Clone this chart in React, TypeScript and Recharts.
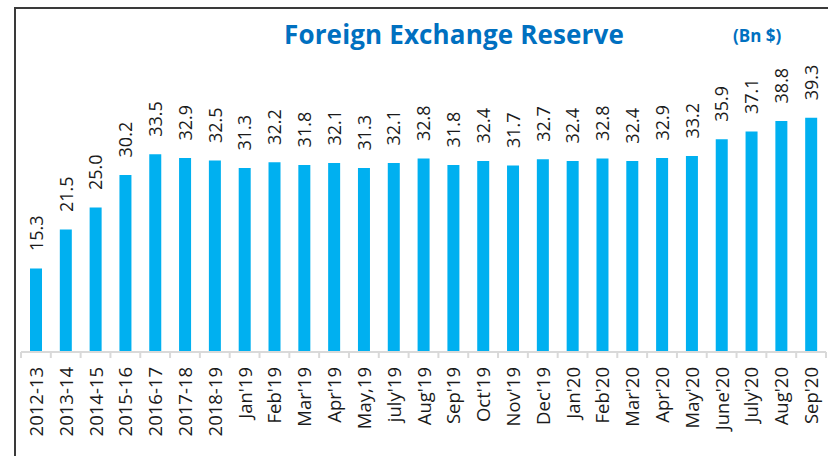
import { Bar, BarChart, LabelList, XAxis, YAxis } from "recharts";

const periods = [
  "2012-13", "2013-14", "2014-15", "2015-16", "2016-17", "2017-18", "2018-19",
  "Jan'19", "Feb'19", "Mar'19", "Apr'19", "May,19", "july'19", "Aug'19", "Sep'19",
  "Oct'19", "Nov'19", "Dec'19", "Jan'20", "Feb'20", "Mar'20", "Apr'20", "May'20",
  "June'20", "July'20", "Aug'20", "Sep'20",
];
const reserves = [
  15.3, 21.5, 25.0, 30.2, 33.5, 32.9, 32.5,
  31.3, 32.2, 31.8, 32.1, 31.3, 32.1, 32.8, 31.8,
  32.4, 31.7, 32.7, 32.4, 32.8, 32.4, 32.9, 33.2,
  35.9, 37.1, 38.8, 39.3,
];

const data = periods.map((name, i) => ({ name, value: reserves[i] }));

const W = 828;
const H = 456;
const M = { top: 82, right: 2, bottom: 0, left: 21 };
const band = (W - M.left - M.right) / periods.length;
const FONT = "'Open Sans', sans-serif";

function PeriodTick({ x, y, payload, index }: any) {
  const left = x - band / 2;
  return <g>
    <line x1={left} y1={y} x2={left} y2={y + 6} stroke="#d9d9d9" strokeWidth={2} />
    {index === periods.length - 1 && <line x1={x + band / 2} y1={y} x2={x + band / 2} y2={y + 6} stroke="#d9d9d9" strokeWidth={2} />}
    <text x={x + 7} y={y + 15} transform={`rotate(-90 ${x + 7} ${y + 15})`} textAnchor="end"
      fontFamily={FONT} fontSize={18.5} fill="#1a1a1a">{payload.value}</text>
  </g>;
}

function ValueLabel({ x, y, width, value }: any) {
  const cx = x + width / 2 + 6.7;
  const ty = y - 17.5;
  return <text x={cx} y={ty} transform={`rotate(-90 ${cx} ${ty})`} textAnchor="start"
    fontFamily={FONT} fontSize={18} fill="#1a1a1a">{Number(value).toFixed(1)}</text>;
}

export default function App() {
  return <div style={{ position: "absolute", left: 0, top: 0, width: W, height: H, background: "#fff", overflow: "hidden" }}>
    <div style={{ position: "absolute", left: 14, top: 7, right: -4, bottom: -4, borderLeft: "2px solid #3a3a3a", borderTop: "2px solid #3a3a3a" }} />
    <div style={{ position: "absolute", left: 284, top: 16, fontFamily: FONT, fontWeight: 700, fontSize: 26, color: "#0070c0", whiteSpace: "nowrap", letterSpacing: 0.15 }}>
      Foreign Exchange Reserve
    </div>
    <div style={{ position: "absolute", left: 733, top: 24, fontFamily: FONT, fontWeight: 700, fontSize: 17, color: "#0070c0", whiteSpace: "nowrap" }}>
      (Bn $)
    </div>
    <div style={{ position: "absolute", left: 0, top: 0 }}>
      <BarChart width={W} height={H} data={data} margin={M}>
        <YAxis hide domain={[2, 45]} allowDataOverflow />
        <XAxis dataKey="name" interval={0} height={H - 352} tickSize={0} tickMargin={0}
          axisLine={{ stroke: "#d9d9d9", strokeWidth: 2 }} tickLine={false} tick={<PeriodTick />} />
        <Bar dataKey="value" fill="#00b0f0" barSize={12} isAnimationActive={false}>
          <LabelList dataKey="value" content={<ValueLabel />} />
        </Bar>
      </BarChart>
    </div>
  </div>;
}
